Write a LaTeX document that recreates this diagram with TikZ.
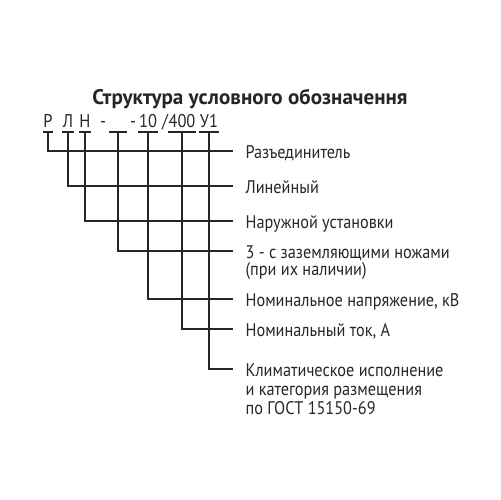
\documentclass[tikz,border=0pt]{standalone}
\usepackage{fontspec}
\setmainfont{PT Sans}
\newfontfamily\lblfont[FakeStretch=0.89]{PT Sans}
\begin{document}
\begin{tikzpicture}[x=0.02cm,y=-0.02cm,line width=0.7pt,color=black!85,
	code/.style={anchor=south,inner sep=0pt,text height=7.4pt,text depth=2.2pt,font=\lblfont\fontsize{10.5}{12}\selectfont},
	lbl/.style={anchor=west,inner xsep=0.24cm,inner ysep=0pt,text height=8pt,text depth=0pt,font=\lblfont\fontsize{10.4}{12}\selectfont}]
	\useasboundingbox (0,0) rectangle (500,500);
	\node[anchor=base,font=\bfseries\fontsize{12}{14}\selectfont] (title) at (250,105) {Структура условного обозначення};
	% код
	\node[code] (cr) at (48,132) {Р};
	\node[code] (cl) at (68,132) {Л};
	\node[code] (cn) at (85,132) {Н};
	\node[code] (d1) at (103,132) {-};
	\node[code,minimum width=17*0.02cm] (cz) at (118,132) {};
	\node[code] (d2) at (133,132) {-};
	\node[code] (cu) at (148,132) {10};
	\node[code] (sl) at (165,132) {/};
	\node[code] (ci) at (182,132) {400};
	\node[code] (ck) at (209,132) {У1};
	\foreach \n in {cr,cl,cn,cz,cu,ci,ck} \draw (\n.south west)--(\n.south east);
	% расшифровка
	\node[lbl] (t1) at (233,151) {Разъединитель};
	\node[lbl] (t2) at (233,186) {Линейный};
	\node[lbl] (t3) at (233,221) {Наружной установки};
	\node[lbl] (t4) at (233,251) {3 - с заземляющими ножами};
	\node[lbl] (t4b) at (233,268) {(при их наличии)};
	\node[lbl] (t5) at (233,299) {Номинальное напряжение, кВ};
	\node[lbl] (t6) at (233,329) {Номинальный ток, А};
	\node[lbl] (t7) at (233,369) {Климатическое исполнение};
	\node[lbl] (t7b) at (233,388) {и категория размещения};
	\node[lbl] (t7c) at (233,407) {по ГОСТ 15150-69};
	\foreach \c/\t in {cr/t1,cl/t2,cn/t3,cz/t4,cu/t5,ci/t6,ck/t7} \draw (\c.south) |- (\t.west);
\end{tikzpicture}
\end{document}
